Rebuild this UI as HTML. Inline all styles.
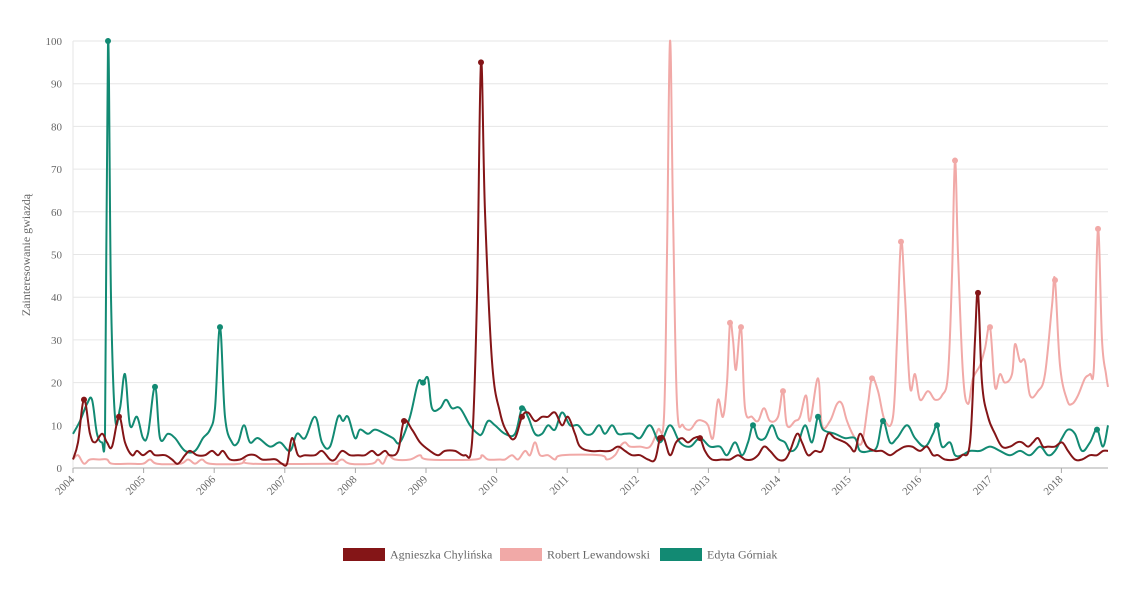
<!DOCTYPE html>
<html><head><meta charset="utf-8"><style>
html,body{margin:0;padding:0;background:#fff;}
svg text{font-family:"Liberation Serif",serif;fill:#666;}
</style></head><body>
<svg id="s" width="1136" height="590" xmlns="http://www.w3.org/2000/svg">
<g id="grid"></g>
<text x="30" y="255" font-size="12" text-anchor="middle" transform="rotate(-90 30 255)">Zainteresowanie gwiazdą</text>
<g id="series"></g>
<g font-size="12">
<rect x="343" y="548" width="42" height="13" fill="#841517"/><text x="390" y="558.5" fill="#666">Agnieszka Chylińska</text>
<rect x="500" y="548" width="42" height="13" fill="#f1a9a7"/><text x="547" y="558.5">Robert Lewandowski</text>
<rect x="660" y="548" width="42" height="13" fill="#128a73"/><text x="707" y="558.5">Edyta Górniak</text>
</g>
</svg>
<script>
var NS="http://www.w3.org/2000/svg";
function el(t,a,p,txt){var e=document.createElementNS(NS,t);for(var k in a)e.setAttribute(k,a[k]);if(txt!=null)e.textContent=txt;p.appendChild(e);return e;}
var g=document.getElementById('grid'),S=document.getElementById('series');
function Y(v){return 468-v*4.27;}
for(var v=0;v<=100;v+=10){
 el('line',{x1:73,x2:1108,y1:Y(v),y2:Y(v),stroke:v==0?'#aaa':'#e6e6e6','stroke-width':1},g);
 el('text',{x:62,y:Y(v)+4,'font-size':11,'text-anchor':'end'},g,String(v));
}
el('line',{x1:73,x2:73,y1:41,y2:468,stroke:'#e6e6e6'},g);
for(var y=2004;y<=2018;y++){var x=73+(y-2004)*70.6;
 el('line',{x1:x,x2:x,y1:468,y2:473,stroke:'#aaa'},g);
 el('text',{x:x+2,y:480,'font-size':11,'text-anchor':'end',transform:'rotate(-45 '+(x+2)+' 480)'},g,String(y));}
function P(s){var a=s.trim().split(/[\s,]+/).map(Number),r=[];for(var i=0;i<a.length;i+=2)r.push([a[i],Y(a[i+1])]);return r;}
function path(p){var d='M'+p[0][0]+','+p[0][1];for(var i=0;i<p.length-1;i++){var p0=p[Math.max(0,i-1)],p1=p[i],p2=p[i+1],p3=p[Math.min(p.length-1,i+2)],t=0.18;
var c1=[p1[0]+(p2[0]-p0[0])*t,p1[1]+(p2[1]-p0[1])*t],c2=[p2[0]-(p3[0]-p1[0])*t,p2[1]-(p3[1]-p1[1])*t];
c1[1]=Math.min(468,c1[1]);c2[1]=Math.min(468,c2[1]);
d+='C'+c1[0].toFixed(1)+','+c1[1].toFixed(1)+' '+c2[0].toFixed(1)+','+c2[1].toFixed(1)+' '+p2[0]+','+p2[1].toFixed(1);}return d;}
function series(data,col,marks){var p=P(data);el('path',{d:path(p),fill:'none',stroke:col,'stroke-width':2},S);
P(marks).forEach(function(q){el('circle',{cx:q[0],cy:q[1],r:3,fill:col},S);});}
series("73 2 78 3 84 1 90 2 100 2 107 2 112 1 130 1 143 1 150 2 157 1 180 1 188 2 195 1 202 2 210 1 240 1 245 2 252 1 330 1 335 1 342 2 350 1 372 1 378 2 383 1 388 3 395 2 410 2 420 3 428 2 475 2 482 3 488 2 500 2 505 2 512 3 518 2 525 4 530 3 535 6 540 3 548 3 555 2 562 3 600 3 607 2 615 3 620 5 625 6 630 5 640 5 650 5 658 9 664 12 667 50 670 100 673 60 677 15 683 10 690 9 697 11 703 11 708 10 713 7 718 16 723 12 727 20 730 34 733 30 736 23 741 33 745 14 752 12 758 11 764 14 770 11 778 12 783 18 787 10 795 11 800 12 806 17 810 11 818 21 822 10 830 11 837 15 842 15 847 11 855 7 862 6 868 15 872 21 878 18 885 11 893 12 897 30 901 53 905 40 910 19 915 22 920 16 928 18 935 16 942 17 948 22 952 45 955 72 958 50 963 22 968 15 973 21 980 24 985 28 990 33 995 19 1000 22 1005 20 1012 22 1015 29 1020 25 1025 25 1030 17 1038 18 1045 22 1052 38 1055 44 1060 24 1067 16 1072 15 1078 17 1085 21 1090 22 1094 24 1098 56 1102 30 1106 22 1108 19",
"#f1a9a7","730 34 741 33 783 18 872 21 901 53 955 72 990 33 1055 44 1098 56");
series("73 8 80 11 87 15 92 16 97 8 102 6 105 8 108 100 111 40 115 12 120 14 125 22 130 10 137 12 143 7 148 8 155 19 160 7 168 8 175 7 185 4 195 4 203 7 210 9 215 14 220 33 225 12 232 6 238 6 244 10 250 6 258 7 270 5 280 6 290 4 297 8 305 7 315 12 322 6 330 5 338 12 343 11 348 12 355 7 360 9 368 8 375 9 385 8 393 7 400 6 410 12 418 20 423 20 428 21 432 14 440 14 446 16 452 14 460 14 470 10 478 8 482 8 488 11 495 10 505 8 515 8 522 14 528 12 535 8 542 8 548 10 555 9 562 13 570 10 578 10 585 8 592 8 599 10 605 8 612 10 618 8 625 8 632 8 640 7 650 10 660 6 670 10 680 6 690 5 700 7 710 5 720 5 727 3 735 6 742 3 748 6 753 10 758 7 765 7 772 10 778 7 785 6 790 4 797 5 805 10 812 6 818 12 823 9 835 8 845 7 855 7 860 4 870 4 877 5 883 11 890 6 897 7 907 10 915 7 925 5 933 8 937 10 942 5 950 6 955 3 962 3 970 4 980 4 990 5 1000 4 1010 3 1020 4 1030 3 1040 5 1048 3 1055 4 1062 7 1068 9 1075 8 1082 4 1090 6 1097 9 1103 5 1108 10",
"#128a73","108 100 155 19 220 33 423 20 522 14 753 10 818 12 883 11 937 10 1097 9");
series("73 2 78 6 84 16 90 8 95 6 102 8 107 6 112 5 119 12 125 6 132 3 137 4 143 3 150 4 155 3 165 3 172 2 178 1 185 3 190 4 197 3 205 3 212 4 218 3 223 4 230 2 240 2 248 3 255 3 262 2 270 2 276 2 282 1 287 1 292 7 298 3 305 3 315 3 322 4 330 2 335 2 342 4 350 3 358 3 365 3 372 4 378 3 385 4 390 3 398 4 404 11 412 9 420 6 430 4 438 3 445 4 455 4 465 3 472 6 477 40 481 95 485 60 492 25 500 13 508 8 515 7 522 12 528 13 535 11 542 12 548 12 555 13 562 10 568 12 575 8 580 5 590 4 600 4 610 4 618 5 625 4 632 3 640 3 648 2 655 2 660 7 664 7 670 3 676 6 682 7 688 6 694 7 700 7 705 4 712 2 722 2 730 2 738 3 745 2 752 2 758 3 764 5 770 4 778 2 785 2 790 4 797 8 802 6 808 3 815 4 822 4 828 8 835 7 845 6 850 5 855 4 860 8 867 5 875 4 882 4 890 3 897 4 905 5 912 5 920 4 927 5 933 3 938 3 945 2 955 2 962 3 970 6 975 30 978 41 982 20 988 12 995 8 1002 5 1010 5 1017 6 1022 6 1028 5 1033 6 1038 7 1043 5 1048 5 1055 5 1062 6 1068 4 1075 2 1082 2 1090 3 1097 3 1103 4 1108 4",
"#841517","84 16 119 12 404 11 481 95 522 12 660 7 700 7 978 41");
</script>
</body></html>
